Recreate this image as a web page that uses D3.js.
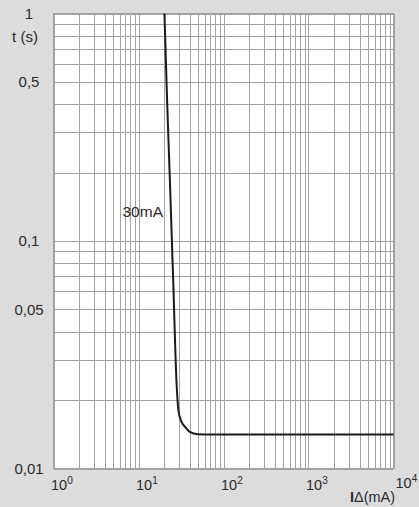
<!DOCTYPE html>
<html><head><meta charset="utf-8">
<script src="https://cdn.jsdelivr.net/npm/d3@7"></script>
<style>
html,body{margin:0;padding:0;background:#dcdcdd;}
svg{display:block;}
text{font-family:"Liberation Sans",Arial,Helvetica,sans-serif;fill:#2a2a2a;}
</style></head>
<body>
<svg id="c" width="419" height="507"></svg>
<script>
// Data
const currentMA = [20.2, 21.7, 23.4, 25.6, 28.0, 29.5, 31.5, 35.5, 40, 50, 70, 10000];
const timeS     = [1.0, 0.415, 0.185, 0.067, 0.024, 0.018, 0.0163, 0.0152, 0.0145, 0.01415, 0.0141, 0.0141];
const curveLabel = "30mA";
const yTickValues = [1, 0.5, 0.1, 0.05, 0.01];
const yTickLabels = ["1", "0,5", "0,1", "0,05", "0,01"];
const xTickExponents = [0, 1, 2, 3, 4];
const yTitle = "t (s)";
const xTitleBold = "I";
const xTitleRest = "\u0394(mA)";

const svg = d3.select("#c");
const L = 53.5, R = 393.5, T = 13.5, B = 468.5;
const x = d3.scaleLog().domain([1, 10000]).range([L, R]);
const y = d3.scaleLog().domain([0.01, 1]).range([B, T]);

svg.append("rect").attr("x", L).attr("y", T).attr("width", R - L).attr("height", B - T).attr("fill", "#fff");

// grid lines
const xGrid = [];
for (let e = 0; e < 4; e++) for (let m = 1; m <= 9; m++) xGrid.push(m * Math.pow(10, e));
xGrid.push(10000);
const yGrid = [];
for (let e = -2; e < 0; e++) for (let m = 1; m <= 9; m++) yGrid.push(m * Math.pow(10, e));
yGrid.push(1);

const g = svg.append("g").attr("stroke", "#a2a2a2").attr("stroke-width", 1);
g.selectAll("line.v").data(xGrid).join("line").attr("class", "v")
  .attr("x1", d => Math.round(x(d)) + 0.5).attr("x2", d => Math.round(x(d)) + 0.5)
  .attr("y1", T).attr("y2", B);
g.selectAll("line.h").data(yGrid).join("line").attr("class", "h")
  .attr("y1", d => Math.round(y(d)) + 0.5).attr("y2", d => Math.round(y(d)) + 0.5)
  .attr("x1", L).attr("x2", R);
svg.append("rect").attr("x", L).attr("y", T).attr("width", R - L).attr("height", B - T)
  .attr("fill", "none").attr("stroke", "#a2a2a2");

// curve
const pts = currentMA.map((c, i) => [c, timeS[i]]);
svg.append("path").datum(pts)
  .attr("d", d3.line().x(d => x(d[0])).y(d => y(d[1])).curve(d3.curveMonotoneX))
  .attr("fill", "none").attr("stroke", "#1a1a1a").attr("stroke-width", 2);

svg.append("text").attr("x", 122.5).attr("y", 216.5).attr("font-size", 15.5).text(curveLabel);

// y ticks
svg.selectAll("text.yt").data(yTickValues).join("text").attr("class", "yt")
  .attr("x", 29).attr("y", d => y(d)).attr("dy", "0.36em")
  .attr("text-anchor", "middle").attr("font-size", 15)
  .text((d, i) => yTickLabels[i]);
svg.append("text").attr("x", 25).attr("y", 37).attr("dy", "0.36em")
  .attr("text-anchor", "middle").attr("font-size", 15).text(yTitle);

// x ticks
xTickExponents.forEach(e => {
  const last = e === 4;
  const t = svg.append("text").attr("x", x(Math.pow(10, e)) - (last ? -2 : 2.5))
    .attr("y", last ? 488 : 490).attr("font-size", 14.5);
  t.append("tspan").text("10");
  t.append("tspan").attr("dy", -6).attr("font-size", 10).text(e);
});
const xt = svg.append("text").attr("x", 350).attr("y", 502).attr("font-size", 14.5);
xt.append("tspan").attr("font-weight", "bold").text(xTitleBold);
xt.append("tspan").text(xTitleRest);
</script>
</body></html>
